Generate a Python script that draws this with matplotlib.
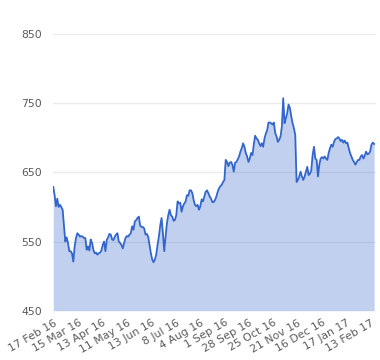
import matplotlib
matplotlib.use("Agg")
import matplotlib.pyplot as plt
import numpy as np

tick_labels = ["17 Feb 16", "15 Mar 16", "13 Apr 16", "11 May 16", "13 Jun 16",
               "8 Jul 16", "4 Aug 16", "1 Sep 16", "28 Sep 16", "25 Oct 16",
               "21 Nov 16", "16 Dec 16", "17 Jan 17", "13 Feb 17"]

# Feb 16 - Jul 16
prices_h1 = [629, 617, 601, 612, 600, 603, 600, 596, 572, 550, 556, 548, 536, 536,
             533, 521, 543, 555, 562, 560, 557, 558, 557, 555, 555, 538, 543, 537,
             553, 548, 538, 533, 534, 531, 533, 534, 537, 545, 550, 536, 552, 556,
             561, 560, 553, 552, 557, 560, 562, 550, 548, 545, 540, 548, 555, 558,
             557, 560, 562, 572, 567, 579, 581, 584, 586, 573, 571, 571, 569, 560,
             561, 557, 545, 533, 524, 520, 524, 531, 545, 557, 573, 584, 562, 536,
             557, 576, 588, 596, 588, 586, 580, 581, 588, 608, 605, 606, 593, 601,
             605, 608, 617, 616, 624, 624, 620, 610, 603, 601, 603, 596, 601, 611,
             608, 615, 622, 624, 620, 615, 612]

# Aug 16 - Feb 17
prices_h2 = [607, 607, 610, 615, 622, 627, 630, 632, 636, 639, 668, 665, 659, 664,
             665, 661, 651, 664, 665, 669, 673, 680, 685, 692, 687, 678, 673, 665,
             670, 678, 675, 690, 703, 699, 697, 692, 688, 692, 687, 699, 706, 711,
             722, 722, 721, 719, 722, 707, 702, 694, 697, 702, 716, 757, 721, 728,
             736, 748, 743, 731, 721, 714, 704, 636, 639, 644, 651, 644, 639, 644,
             651, 658, 646, 648, 653, 675, 687, 670, 668, 644, 661, 670, 672, 670,
             673, 670, 668, 678, 685, 690, 687, 694, 698, 699, 701, 699, 695, 697,
             693, 696, 692, 693, 685, 678, 673, 668, 665, 661, 665, 668, 668, 673,
             675, 670, 674, 680, 676, 677, 680, 690, 693, 691]

prices = np.array(prices_h1 + prices_h2)
x = np.arange(len(prices))

fig = plt.figure(figsize=(3.8, 3.6), dpi=100)
ax = fig.add_axes([53 / 380, 1 - 310.7 / 360, 323 / 380, (310.7 - 34) / 360])

blue = "#3366cc"
ax.fill_between(x, prices, 450, color=blue, alpha=0.3, linewidth=0)
ax.plot(x, prices, color=blue, linewidth=1.3)

ax.set_ylim(450, 850)
ax.set_xlim(-0.2, 241.4)
ax.set_yticks([450, 550, 650, 750, 850])
ax.grid(axis="y", color="#ebebeb", linewidth=1)
ax.set_axisbelow(True)

ax.set_xticks(np.linspace(0.5, 237.7, len(tick_labels)))
ax.set_xticklabels(tick_labels, rotation=30, ha="right", va="top",
                   rotation_mode="anchor", fontsize=7.8, color="#5a5a5a")
ax.tick_params(axis="x", length=0, pad=5)
ax.tick_params(axis="y", length=0, pad=8, labelsize=7.8, labelcolor="#5a5a5a")
for s in ax.spines.values():
    s.set_visible(False)

fig.savefig("out.png", dpi=100)
